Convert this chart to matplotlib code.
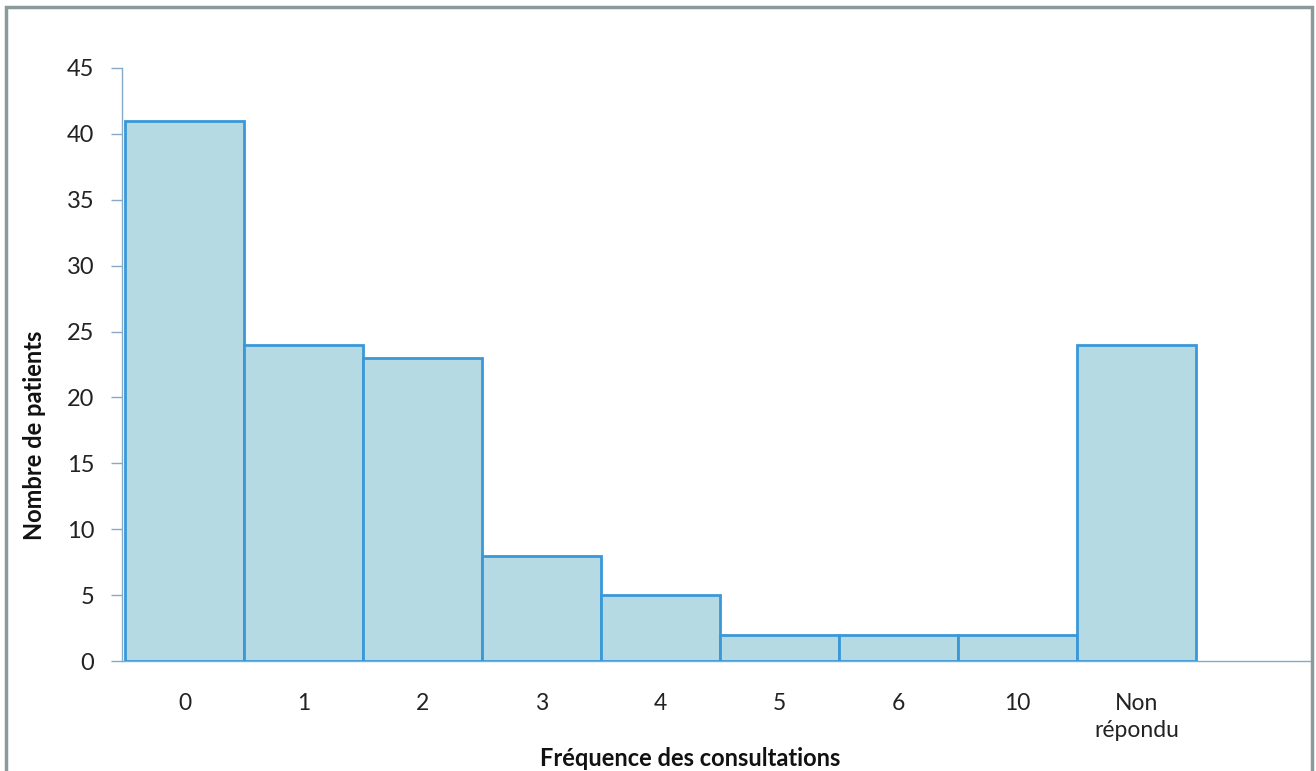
import matplotlib
matplotlib.use("Agg")
import matplotlib.pyplot as plt
from matplotlib.patches import Rectangle

categories = ["0", "1", "2", "3", "4", "5", "6", "10", "Non\nrépondu"]
patients = [41, 24, 23, 8, 5, 2, 2, 2, 24]
y_ticks = [0, 5, 10, 15, 20, 25, 30, 35, 40, 45]

plt.rcParams['font.family'] = ['Lato', 'DejaVu Sans']

fig = plt.figure(figsize=(13.16, 7.71), dpi=100)
ax = fig.add_axes([122/1316, 1 - 661/771, (1312 - 122)/1316, (661 - 68)/771])

x = list(range(len(categories)))
ax.bar([v + 0.025 for v in x], patients, width=1.0, color="#B6DAE4", edgecolor="#3A98D8",
       linewidth=2.0, zorder=3)

ax.set_xlim(-0.5, len(categories) + 0.5)
ax.set_ylim(0, 45)
ax.set_yticks(y_ticks)
ax.set_yticklabels([str(v) for v in y_ticks], fontsize=17, color="#222222")
ax.set_xticks([v + 0.025 for v in x])
ax.set_xticklabels(categories, fontsize=16.5, color="#222222", linespacing=1.35)
ax.tick_params(axis='y', length=8, width=1, color="#86A9C8", pad=12)
ax.tick_params(axis='x', length=0, pad=23)

for s in ["top", "right"]:
    ax.spines[s].set_visible(False)
ax.spines["left"].set_color("#86A9C8")
ax.spines["bottom"].set_color("#86A9C8")
ax.spines["left"].set_linewidth(1.0)
ax.spines["bottom"].set_linewidth(1.0)

fig.text(35/1316, 1 - 435/771, "Nombre de patients", fontsize=17, fontweight="bold",
         color="#111111", ha="center", va="center", rotation=90)
fig.text(690/1316, 1 - 758/771, "Fréquence des consultations", fontsize=17, fontweight="bold",
         color="#111111", ha="center", va="center")

# outer frame
fig.add_artist(Rectangle((6/1316, -0.01), (1312 - 6)/1316, 1 - 7/771 + 0.01,
                         transform=fig.transFigure, fill=False, edgecolor="#8A9A9A", linewidth=2.5))

fig.savefig("out.png", dpi=100)
